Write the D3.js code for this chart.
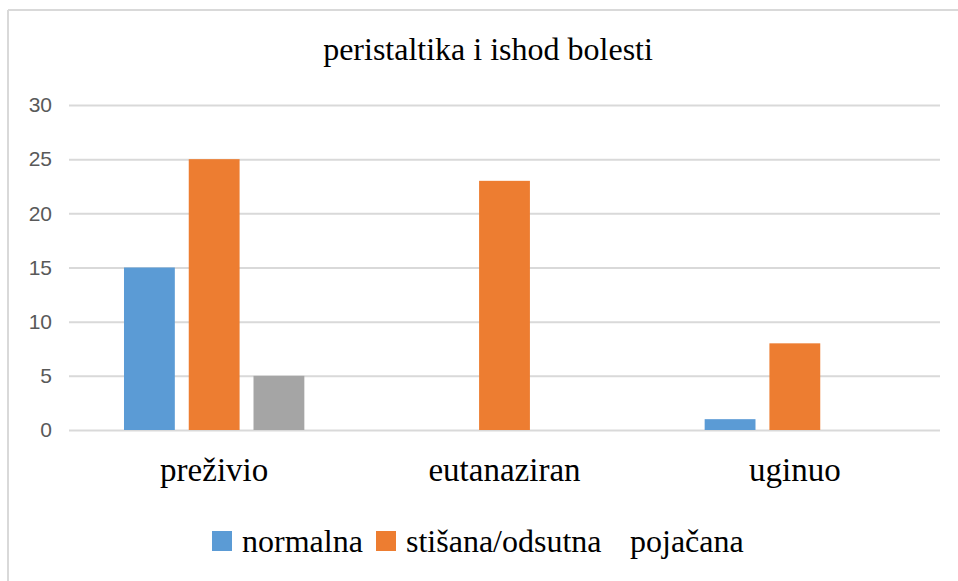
<!DOCTYPE html>
<meta charset="utf-8">
<style>
  body { margin: 0; background: #fff; }
  .tick text { font-family: "Liberation Sans", Arial, sans-serif; font-size: 21px; fill: #595959; }
  .serif { font-family: "Liberation Serif", "Times New Roman", serif; fill: #000; }
</style>
<body></body>
<script src="https://d3js.org/d3.v7.min.js"></script>
<script>
  // data
  var categories = ["preživio", "eutanaziran", "uginuo"];
  var seriesNames = ["normalna", "stišana/odsutna", "pojačana"];
  var normalna = [15, 0, 1];
  var stisana = [25, 23, 8];
  var pojacana = [5, 0, 0];
  var yTicks = [0, 5, 10, 15, 20, 25, 30];
  var colors = ["#5B9BD5", "#ED7D31", "#A5A5A5"];

  var W = 958, H = 581;
  var plotL = 69, plotR = 940, plotT = 105, plotB = 430;

  var svg = d3.select("body").append("svg")
    .attr("width", W)
    .attr("height", H);

  // frame (only top and left edges show)
  svg.append("line").attr("x1", 8).attr("x2", W).attr("y1", 10).attr("y2", 10)
    .attr("stroke", "#d9d9d9").attr("stroke-width", 2);
  svg.append("line").attr("x1", 8).attr("x2", 8).attr("y1", 10).attr("y2", H)
    .attr("stroke", "#d9d9d9").attr("stroke-width", 2);

  var x0 = d3.scaleBand().domain(categories).range([plotL, plotR]).padding(0);
  var groupOff = x0.bandwidth() * 0.1894;
  var x1 = d3.scaleBand().domain(seriesNames)
    .range([0, x0.bandwidth() - 2 * groupOff]).paddingInner(0.215);
  var y = d3.scaleLinear().domain([0, 30]).range([plotB, plotT]);

  // title
  svg.append("text").attr("class", "serif")
    .attr("x", 488)
    .attr("y", 60)
    .attr("text-anchor", "middle")
    .style("font-size", "32px")
    .text("peristaltika i ishod bolesti");

  // grid + y labels
  var yAxis = d3.axisLeft(y).tickValues(yTicks).tickSize(-(plotR - plotL)).tickPadding(17);
  var gy = svg.append("g").attr("transform", "translate(" + plotL + ",0)").call(yAxis);
  gy.select(".domain").remove();
  gy.selectAll(".tick line").attr("stroke", "#d9d9d9").attr("stroke-width", 2);

  // bars
  var rows = categories.map(function(c, i) {
    return { cat: c, vals: [normalna[i], stisana[i], pojacana[i]] };
  });
  var groups = svg.append("g").selectAll("g")
    .data(rows)
    .enter().append("g")
    .attr("transform", function(d) { return "translate(" + (x0(d.cat) + groupOff) + ",0)"; });
  groups.selectAll("rect")
    .data(function(d) { return d.vals.map(function(v, j) { return { s: seriesNames[j], v: v, j: j }; }); })
    .enter().append("rect")
    .attr("x", function(d) { return x1(d.s); })
    .attr("y", function(d) { return y(d.v); })
    .attr("width", x1.bandwidth())
    .attr("height", function(d) { return plotB - y(d.v); })
    .attr("fill", function(d) { return colors[d.j]; });

  // category labels
  var xAxis = d3.axisBottom(x0).tickSize(0).tickPadding(0);
  var gx = svg.append("g").attr("transform", "translate(0," + plotB + ")").call(xAxis);
  gx.select(".domain").remove();
  gx.selectAll(".tick text")
    .attr("dy", 0)
    .attr("y", 51)
    .style("font-family", "'Liberation Serif', 'Times New Roman', serif")
    .style("font-size", "33px")
    .style("fill", "#000");

  // legend
  var legendItems = [
    { name: seriesNames[0], box: 212, tx: 242, color: colors[0] },
    { name: seriesNames[1], box: 376, tx: 406, color: colors[1] },
    { name: seriesNames[2], box: null, tx: 630, color: null }
  ];
  var lg = svg.append("g");
  legendItems.forEach(function(it) {
    if (it.box !== null) {
      lg.append("rect").attr("x", it.box).attr("y", 531)
        .attr("width", 20).attr("height", 20).attr("fill", it.color);
    }
    lg.append("text").attr("class", "serif")
      .attr("x", it.tx).attr("y", 552)
      .style("font-size", "32px")
      .text(it.name);
  });
</script>
